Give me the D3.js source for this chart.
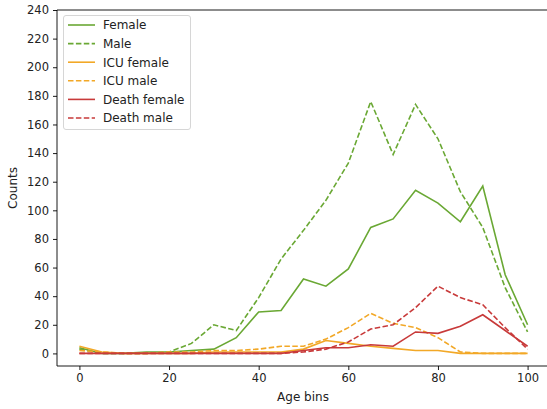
<!DOCTYPE html>
<html><head><meta charset="utf-8">
<script src="https://cdn.jsdelivr.net/npm/d3@7"></script>
<style>body{margin:0;background:#fff}svg{display:block}text{font-family:"DejaVu Sans",sans-serif}</style>
</head><body><svg id="c" width="547" height="409"></svg>
<script>
const ages = [0,5,10,15,20,25,30,35,40,45,50,55,60,65,70,75,80,85,90,95,100];
const female = [4,0,0,1,1,2,3,11,29,30,52,47,59,88,94,114,105,92,117,55,20];
const male = [3,0,0,0,1,7,20,16,39,66,86,107,133,176,139,174,150,113,88,46,15];
const icuFemale = [5,1,0,0,0,0,1,1,1,1,3,9,7,5,3.5,2,2,0,0,0,0];
const icuMale = [2,1,0,0,1,1,2,2,3,5,5,10,18,28,21,18,11,1,0,0,0];
const deathFemale = [0,0,0,0,0,0,0,0,0,0,2,4,4,6,5,15,14,19,27,16,5];
const deathMale = [0,0,0,0,0,0,0,0,0,0,1,3,8,17,20,32,47,39,34,18,3];
const yTicks = [0,20,40,60,80,100,120,140,160,180,200,220,240];
const xTicks = [0,20,40,60,80,100];
const seriesNames = ["Female","Male","ICU female","ICU male","Death female","Death male"];
const seriesColors = ["#6aa834","#6aa834","#f2a827","#f2a827","#c83a3a","#c83a3a"];
const seriesDash = [false,true,false,true,false,true];
const seriesData = [female,male,icuFemale,icuMale,deathFemale,deathMale];

const svg = d3.select("#c");
const L=57,R=550,T=10,B=366;
const x = d3.scaleLinear().domain([-5,105]).range([L,R]);
const y = d3.scaleLinear().domain([-8.8,240]).range([B,T]);

const line = d3.line().x((d,i)=>x(ages[i])).y(d=>y(d));
seriesData.forEach((s,k)=>{
  svg.append("path").attr("d",line(s)).attr("fill","none")
    .attr("stroke",seriesColors[k]).attr("stroke-width",1.6)
    .attr("stroke-dasharray",seriesDash[k]?"5.5,2.4":null);
});

// spines
svg.append("line").attr("x1",L).attr("x2",L).attr("y1",T).attr("y2",B).attr("stroke","#000").attr("stroke-width",0.9);
svg.append("line").attr("x1",L).attr("x2",R).attr("y1",B).attr("y2",B).attr("stroke","#000").attr("stroke-width",0.9);
svg.append("line").attr("x1",L).attr("x2",R).attr("y1",T).attr("y2",T).attr("stroke","#000").attr("stroke-width",0.9);
svg.append("line").attr("x1",R).attr("x2",R).attr("y1",T).attr("y2",B).attr("stroke","#000").attr("stroke-width",0.9);

const xa = svg.append("g").attr("transform",`translate(0,${B})`)
  .call(d3.axisBottom(x).tickValues(xTicks).tickSize(4).tickPadding(4).tickFormat(d3.format("d")));
const ya = svg.append("g").attr("transform",`translate(${L},0)`)
  .call(d3.axisLeft(y).tickValues(yTicks).tickSize(4).tickPadding(4).tickFormat(d3.format("d")));
[xa,ya].forEach(a=>{a.select(".domain").remove();a.selectAll("text").attr("font-size",11.5).attr("fill","#222").attr("font-family","DejaVu Sans");a.selectAll("line").attr("stroke","#000").attr("stroke-width",0.9);});

svg.append("text").attr("x",303).attr("y",401).attr("text-anchor","middle").attr("font-size",12).attr("fill","#222").text("Age bins");
svg.append("text").attr("transform",`translate(17,${(T+B)/2}) rotate(-90)`).attr("text-anchor","middle").attr("font-size",12).attr("fill","#222").text("Counts");

// legend
const lg = svg.append("g");
lg.append("rect").attr("x",63.5).attr("y",15.5).attr("width",127).attr("height",114).attr("rx",2.5)
  .attr("fill","#fff").attr("fill-opacity",0.8).attr("stroke","#d6d6d6");
seriesNames.forEach((n,k)=>{
  const yy = 25 + k*18.6;
  lg.append("line").attr("x1",68).attr("x2",95).attr("y1",yy).attr("y2",yy)
    .attr("stroke",seriesColors[k]).attr("stroke-width",1.6)
    .attr("stroke-dasharray",seriesDash[k]?"5.5,2.4":null);
  lg.append("text").attr("x",103).attr("y",yy+4.3).attr("font-size",12).attr("fill","#222").text(n);
});
</script></body></html>
